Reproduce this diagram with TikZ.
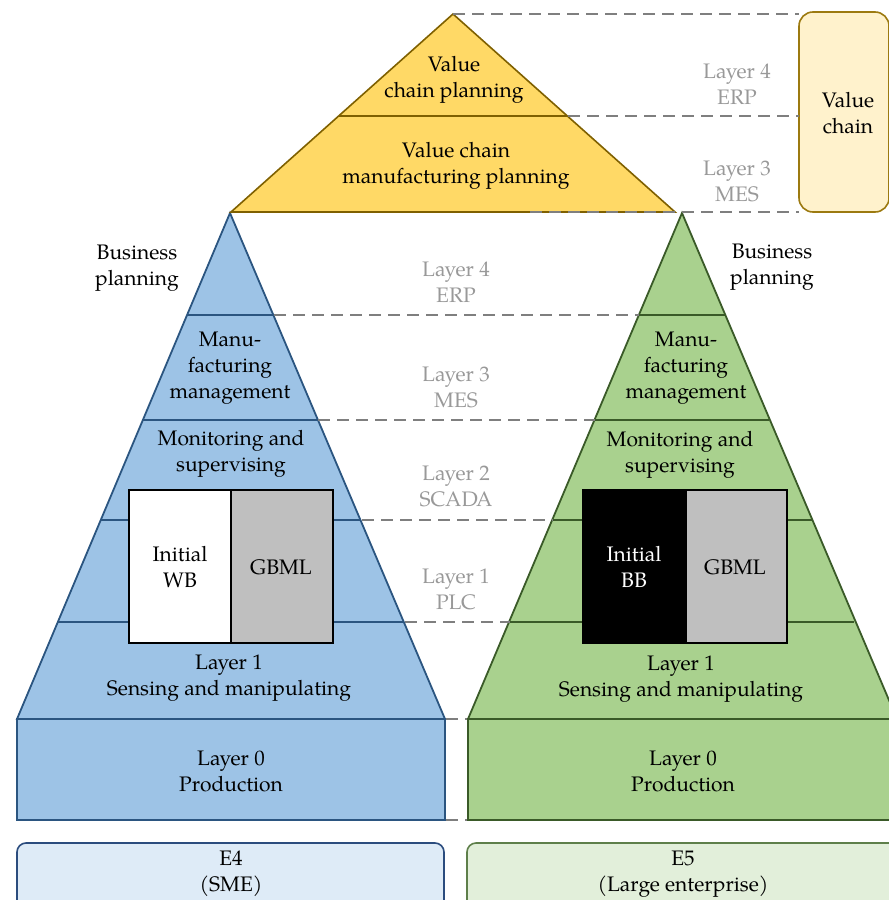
\documentclass[tikz,border=0pt]{standalone}
\usepackage{fontspec}
\setmainfont{TeX Gyre Pagella}
\definecolor{bluef}{HTML}{9DC3E6}
\definecolor{bluel}{HTML}{2B5580}
\definecolor{greenf}{HTML}{A9D18E}
\definecolor{greenl}{HTML}{3A5A28}
\definecolor{yelf}{HTML}{FFD966}
\definecolor{yell}{HTML}{7F6000}
\definecolor{vcf}{HTML}{FFF2CC}
\definecolor{vcl}{HTML}{9C7A10}
\definecolor{e4f}{HTML}{DEEBF7}
\definecolor{e4l}{HTML}{2B4C7E}
\definecolor{e5f}{HTML}{E2EFDA}
\definecolor{e5l}{HTML}{5E7F4A}
\definecolor{dashc}{HTML}{7F7F7F}
\definecolor{labc}{HTML}{999999}
\definecolor{gbmlc}{HTML}{BFBFBF}
\begin{document}
\begin{tikzpicture}[x=1pt,y=-1pt,
  txt/.style={align=center,font=\fontsize{21}{26}\selectfont,inner sep=0pt},
  lab/.style={txt,text=labc},
  dashline/.style={draw=dashc,line width=2.2pt,dash pattern=on 12pt off 7pt},
  bluepart/.style={fill=bluef,draw=bluel,line width=1.8pt,line join=miter},
  greenpart/.style={fill=greenf,draw=greenl,line width=1.8pt,line join=miter},
  yelpart/.style={fill=yelf,draw=yell,line width=1.6pt},
  divline/.style={line width=1.8pt},
  boxpart/.style={draw=black,line width=2.2pt}]
\useasboundingbox (0,0) rectangle (889,900);

% ---------- blue pyramid ----------
\filldraw[bluepart] (230,213) -- (445,719) -- (17,719) -- cycle;
\draw[divline,bluel] (187,315) -- (273,315);
\draw[divline,bluel] (143,420) -- (318,420);
\draw[divline,bluel] (101,520) -- (361,520);
\draw[divline,bluel] (58,622) -- (404,622);
\filldraw[bluepart] (17,719) rectangle (445,820);
\filldraw[boxpart,fill=white] (129,490) rectangle (231,643);
\filldraw[boxpart,fill=gbmlc] (231,490) rectangle (333,643);

% ---------- green pyramid ----------
\filldraw[greenpart] (682,213) -- (897,719) -- (468,719) -- cycle;
\draw[divline,greenl] (639,315) -- (725,315);
\draw[divline,greenl] (595,420) -- (769,420);
\draw[divline,greenl] (553,520) -- (812,520);
\draw[divline,greenl] (510,622) -- (854,622);
\filldraw[greenpart] (468,719) rectangle (897,820);
\filldraw[boxpart,fill=black] (583,490) rectangle (686,643);
\filldraw[boxpart,fill=gbmlc] (686,490) rectangle (787,643);

% ---------- yellow pyramid ----------
\filldraw[yelpart] (453,14) -- (675,212) -- (231,212) -- cycle;
\draw[yell,line width=1.6pt] (339,116) -- (567,116);

% ---------- value chain box ----------
\node[draw=vcl,fill=vcf,line width=1.6pt,rounded corners=14pt,minimum width=90pt,minimum height=200pt,inner sep=0pt] (vc) at (844,112) {};
\node[txt] (vct) at (848,113) {Value\\chain};

% ---------- E boxes ----------
\filldraw[draw=e4l,fill=e4f,line width=1.6pt,rounded corners=9pt] (17,843) rectangle (444,920);
\filldraw[draw=e5l,fill=e5f,line width=1.6pt,rounded corners=9pt] (467,843) rectangle (905,920);

% ---------- coordinates for dashed connectors ----------
\coordinate (ya) at (453,14);
\coordinate (ym) at (568,116);
\coordinate (yb) at (530,212);
\coordinate (vca) at (799,14);
\coordinate (vcm) at (799,116);
\coordinate (vcb) at (799,212);
\coordinate (b4) at (274,315);  \coordinate (g4) at (639,315);
\coordinate (b3) at (318,420);  \coordinate (g3) at (595,420);
\coordinate (b2) at (362,520);  \coordinate (g2) at (553,520);
\coordinate (b1) at (405,622);  \coordinate (g1) at (510,622);
\coordinate (b0) at (446,719);  \coordinate (g0) at (467,719);
\coordinate (bb) at (446,820);  \coordinate (gb) at (467,820);
\draw[dashline] (ya) -- (vca);
\draw[dashline] (ym) -- (vcm);
\draw[dashline] (yb) -- (vcb);
\draw[dashline] (b4) -- (g4);
\draw[dashline] (b3) -- (g3);
\draw[dashline] (b2) -- (g2);
\draw[dashline] (b1) -- (g1);
\draw[dashline] (b0) -- (g0);
\draw[dashline] (bb) -- (gb);

% ---------- texts: yellow ----------
\node[txt] (vcp) at (454,80) {Value\\chain planning};
\node[txt] (vcmp) at (456,166) {Value chain\\manufacturing planning};
\node[lab] (rl4) at (737,84) {Layer 4\\ERP};
\node[lab] (rl3) at (737,181) {Layer 3\\MES};

% ---------- texts: middle labels ----------
\node[lab] (ml4) at (456,282) {Layer 4\\ERP};
\node[lab] (ml3) at (456,387) {Layer 3\\MES};
\node[lab] (ml2) at (456,486) {Layer 2\\SCADA};
\node[lab] (ml1) at (456,589) {Layer 1\\PLC};

% ---------- texts: blue ----------
\node[txt] (bbp) at (137,268) {Business\\planning};
\node[txt] (bmm) at (230,368) {Manu-\\facturing\\management};
\node[txt] (bms) at (231,454) {Monitoring and\\supervising};
\node[txt] (bwb) at (180,567) {Initial\\WB};
\node[txt] (bgb) at (281,567) {GBML};
\node[txt] (bl1) at (229,678) {Layer 1\\Sensing and manipulating};
\node[txt] (bl0) at (231,771) {Layer 0\\Production};
\node[txt] (e4) at (231,874) {E4\\(SME)};

% ---------- texts: green ----------
\node[txt] (gbp) at (772,267) {Business\\planning};
\node[txt] (gmm) at (686,368) {Manu-\\facturing\\management};
\node[txt] (gms) at (680,455) {Monitoring and\\supervising};
\node[txt,text=white] (gbbx) at (634,567) {Initial\\BB};
\node[txt] (ggb) at (735,567) {GBML};
\node[txt] (gl1) at (681,679) {Layer 1\\Sensing and manipulating};
\node[txt] (gl0) at (683,771) {Layer 0\\Production};
\node[txt] (e5) at (683,874) {E5\\(Large enterprise)};
\end{tikzpicture}
\end{document}
